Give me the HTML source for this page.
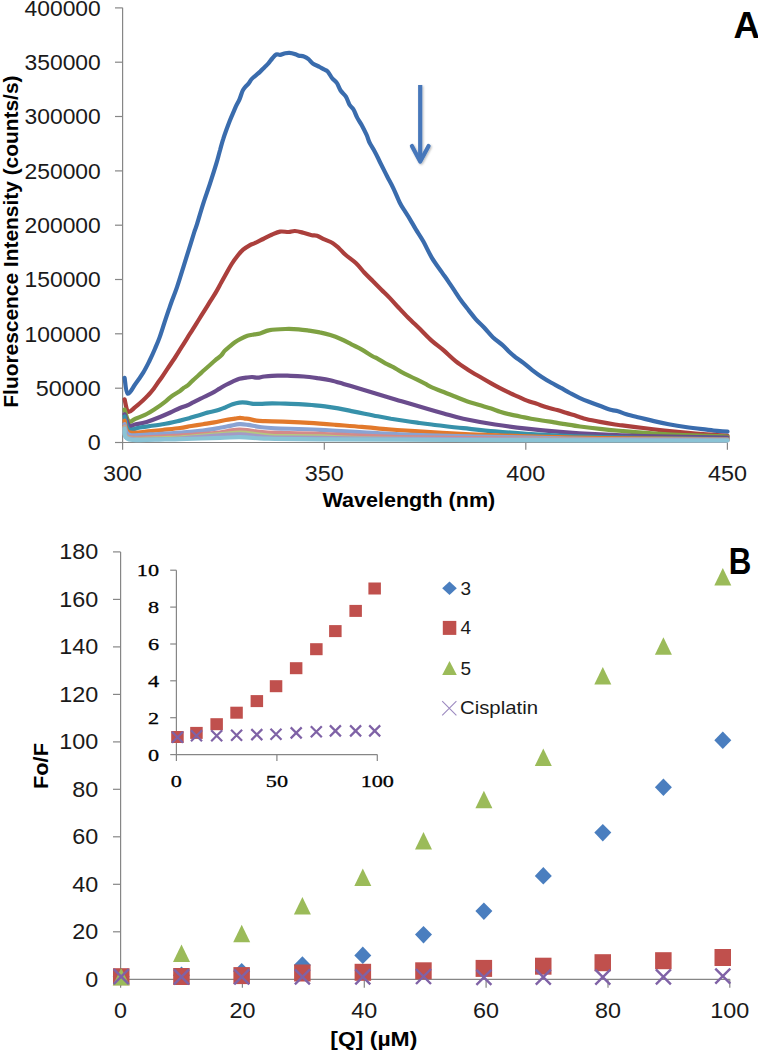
<!DOCTYPE html>
<html><head><meta charset="utf-8"><title>Fluorescence quenching</title>
<style>html,body{margin:0;padding:0;background:#fff;width:758px;height:1050px;overflow:hidden}svg{display:block}</style>
</head><body>
<svg width="758" height="1050" viewBox="0 0 758 1050">
<rect width="758" height="1050" fill="#fff"/>
<g stroke="#868686" stroke-width="1.2" fill="none">
<path d="M122.6,7.8 V442.5 H727.5"/>
<path d="M115,442.5 H122.6"/>
<path d="M115,388.2 H122.6"/>
<path d="M115,333.8 H122.6"/>
<path d="M115,279.5 H122.6"/>
<path d="M115,225.2 H122.6"/>
<path d="M115,170.9 H122.6"/>
<path d="M115,116.5 H122.6"/>
<path d="M115,62.2 H122.6"/>
<path d="M115,7.9 H122.6"/>
<path d="M122.6,442.5 V449.8"/>
<path d="M324.3,442.5 V449.8"/>
<path d="M525.8,442.5 V449.8"/>
<path d="M727.4,442.5 V449.8"/>
</g>
<g fill="none" stroke-width="4.2" stroke-linejoin="round" stroke-linecap="round">
<path stroke="#3A6CAD" d="M124.6,377.9 C125.1,380.5 125.8,392.5 127.6,393.6 C129.4,394.7 132.6,387.8 135.2,384.3 C137.8,380.8 140.8,376.5 143.2,372.6 C145.6,368.7 147.4,365.0 149.4,361.0 C151.4,357.0 153.4,352.5 155.1,348.5 C156.8,344.5 158.2,341.3 159.7,337.1 C161.2,332.9 162.7,328.0 164.2,323.4 C165.7,318.8 167.6,313.2 168.8,309.7 C170.0,306.2 170.0,306.0 171.4,302.2 C172.8,298.4 175.2,292.5 177.1,286.9 C179.0,281.3 181.0,274.7 182.9,268.6 C184.8,262.5 186.7,256.4 188.6,250.3 C190.5,244.2 193.0,236.2 194.3,232.0 C195.6,227.8 195.1,230.2 196.6,225.4 C198.1,220.6 201.1,210.2 203.4,203.1 C205.7,196.0 208.2,189.2 210.3,182.6 C212.5,176.0 214.7,169.1 216.3,163.7 C217.9,158.3 218.9,154.1 220.1,150.0 C221.2,145.9 222.1,142.6 223.2,139.2 C224.2,135.8 225.3,132.7 226.4,129.7 C227.5,126.7 228.6,123.8 229.6,121.2 C230.6,118.6 231.6,116.3 232.7,113.8 C233.8,111.3 234.8,108.9 235.9,106.4 C237.1,104.0 238.5,101.7 239.6,99.1 C240.7,96.5 241.7,92.6 242.7,90.6 C243.7,88.6 244.4,88.1 245.4,86.9 C246.4,85.8 247.4,85.0 248.5,83.7 C249.6,82.4 250.5,80.4 251.7,79.0 C252.9,77.6 254.5,76.5 255.9,75.3 C257.3,74.1 258.8,72.9 260.2,71.6 C261.6,70.3 263.0,68.8 264.4,67.4 C265.8,66.0 267.3,64.7 268.6,63.2 C269.9,61.7 270.9,60.0 272.2,58.5 C273.5,57.0 274.9,55.1 276.2,54.5 C277.5,53.9 278.6,55.0 280.1,54.8 C281.6,54.6 283.8,53.5 285.4,53.2 C286.9,52.9 287.9,52.7 289.4,52.8 C290.9,52.9 293.1,53.4 294.6,53.9 C296.1,54.4 297.1,55.2 298.6,55.6 C300.2,56.0 302.2,55.9 303.9,56.5 C305.5,57.1 307.0,57.9 308.5,59.1 C310.0,60.3 311.2,62.4 313.1,63.7 C315.0,65.0 317.9,66.0 319.7,67.0 C321.5,68.0 322.7,68.7 324.0,69.4 C325.3,70.1 326.2,69.9 327.6,71.4 C329.0,72.9 330.7,76.4 332.2,78.3 C333.7,80.2 335.4,80.9 336.8,82.9 C338.2,84.9 339.1,88.2 340.6,90.5 C342.1,92.8 344.4,94.2 345.9,96.6 C347.4,99.0 348.4,102.8 349.7,105.0 C351.0,107.2 352.2,107.3 353.5,109.5 C354.8,111.7 355.9,115.2 357.3,117.9 C358.7,120.6 360.4,122.7 361.9,125.5 C363.4,128.3 365.2,131.9 366.5,134.7 C367.8,137.5 368.3,140.0 369.5,142.5 C370.7,145.0 372.3,147.2 373.6,149.6 C374.9,152.0 376.3,154.6 377.5,157.0 C378.7,159.4 379.3,160.8 380.9,164.0 C382.5,167.2 385.1,172.4 387.2,176.5 C389.3,180.6 391.4,184.2 393.5,188.6 C395.6,193.0 397.9,198.9 399.8,202.7 C401.7,206.5 403.2,208.6 405.0,211.4 C406.8,214.2 408.5,216.8 410.3,219.8 C412.1,222.8 413.8,226.0 416.0,229.6 C418.2,233.2 420.8,236.8 423.4,241.5 C426.0,246.2 428.8,252.6 431.9,257.8 C435.0,263.0 439.4,268.6 442.1,272.6 C444.9,276.6 446.3,278.5 448.4,281.6 C450.5,284.7 452.7,287.9 454.8,291.1 C456.9,294.3 458.8,297.4 461.1,300.6 C463.4,303.8 466.0,307.0 468.5,310.1 C471.0,313.2 473.3,316.4 475.9,319.4 C478.5,322.3 481.5,324.8 484.3,327.8 C487.1,330.8 489.8,334.4 492.8,337.2 C495.8,340.0 499.5,342.4 502.3,344.9 C505.1,347.4 507.6,350.3 509.7,352.3 C511.8,354.3 512.7,355.0 515.0,356.8 C517.3,358.6 520.6,360.7 523.4,362.9 C526.2,365.1 528.9,367.5 531.9,369.8 C534.9,372.1 538.2,374.6 541.4,376.7 C544.6,378.8 547.7,380.7 550.9,382.5 C554.1,384.3 557.2,385.9 560.4,387.7 C563.6,389.4 566.7,391.3 569.9,393.0 C573.1,394.7 576.2,396.4 579.4,397.8 C582.6,399.2 585.3,400.3 588.9,401.7 C592.5,403.1 597.3,404.9 601.1,406.3 C604.9,407.7 608.9,409.3 611.7,410.1 C614.5,410.9 615.5,410.5 618.0,411.2 C620.5,411.9 622.9,413.2 626.4,414.3 C629.9,415.4 634.5,416.4 639.1,417.5 C643.7,418.6 649.0,420.0 653.9,421.1 C658.8,422.2 663.4,423.2 668.7,424.2 C674.0,425.2 679.9,426.2 685.5,427.0 C691.1,427.8 697.1,428.5 702.4,429.1 C707.7,429.7 713.0,430.4 717.2,430.8 C721.4,431.2 725.8,431.5 727.5,431.6"/>
<path stroke="#AB3F3C" d="M124.6,399.3 C125.2,401.4 126.4,410.3 128.2,411.6 C130.0,412.9 132.7,409.1 135.2,407.2 C137.7,405.3 140.9,402.3 143.1,400.3 C145.3,398.3 146.6,396.9 148.4,395.0 C150.2,393.1 151.9,391.0 153.7,388.7 C155.4,386.4 157.5,383.2 158.9,381.3 C160.3,379.4 160.3,379.4 162.0,377.0 C163.7,374.6 166.5,370.2 168.8,366.8 C171.1,363.4 173.6,359.7 175.7,356.5 C177.8,353.3 179.5,350.4 181.4,347.4 C183.3,344.4 185.2,341.4 187.1,338.3 C189.0,335.2 191.0,332.2 192.9,329.1 C194.8,326.1 196.7,323.0 198.6,320.0 C200.5,317.0 202.4,313.9 204.3,310.9 C206.2,307.8 208.1,304.8 210.0,301.7 C211.9,298.6 213.8,295.8 215.7,292.6 C217.6,289.4 219.5,285.7 221.4,282.3 C223.3,278.9 225.4,275.1 227.1,272.0 C228.8,268.9 230.0,266.7 231.7,264.0 C233.4,261.3 235.5,258.4 237.4,256.0 C239.3,253.6 241.0,251.5 243.1,249.7 C245.2,247.9 248.1,246.2 250.0,245.1 C251.9,244.0 252.6,244.2 254.8,243.2 C257.0,242.2 260.4,240.4 263.2,239.0 C266.0,237.6 268.9,236.0 271.7,234.8 C274.5,233.6 277.3,232.1 280.1,231.6 C282.9,231.1 286.0,232.1 288.5,232.0 C291.0,231.9 292.4,230.9 294.9,231.0 C297.4,231.1 300.5,232.0 303.3,232.7 C306.1,233.4 309.5,234.7 311.8,235.2 C314.1,235.7 314.9,235.1 317.0,235.8 C319.1,236.5 321.8,238.2 324.4,239.4 C327.0,240.6 330.4,241.7 332.9,243.2 C335.4,244.7 337.1,246.6 339.2,248.5 C341.3,250.4 342.7,252.3 345.5,254.8 C348.3,257.3 352.9,260.3 356.1,263.3 C359.3,266.3 361.7,269.8 364.5,272.8 C367.3,275.8 370.2,278.4 373.0,281.2 C375.8,284.0 378.6,286.9 381.4,289.7 C384.2,292.5 387.1,295.2 389.9,298.1 C392.7,301.0 395.0,303.8 398.0,307.0 C401.0,310.2 404.3,313.8 408.0,317.5 C411.7,321.2 416.0,325.2 420.0,329.1 C424.0,333.0 427.9,337.3 431.9,340.9 C435.8,344.4 439.8,347.0 443.7,350.4 C447.6,353.8 451.6,357.9 455.6,361.1 C459.6,364.3 463.5,366.8 467.5,369.4 C471.5,372.0 475.4,374.2 479.4,376.5 C483.3,378.8 487.8,381.4 491.2,383.4 C494.6,385.3 496.8,386.5 500.0,388.2 C503.2,389.9 507.6,392.0 510.6,393.4 C513.6,394.8 515.3,395.4 518.0,396.6 C520.7,397.8 524.0,399.4 527.0,400.6 C530.0,401.8 532.8,402.5 536.1,403.6 C539.4,404.7 543.2,406.2 546.7,407.3 C550.2,408.4 554.0,409.1 557.2,410.0 C560.4,410.9 563.2,411.9 566.0,412.8 C568.8,413.7 571.6,414.4 573.9,415.1 C576.2,415.8 578.0,416.6 580.0,417.2 C582.0,417.8 582.7,418.2 586.0,419.0 C589.3,419.8 595.2,421.0 600.0,421.9 C604.8,422.8 611.3,423.9 615.0,424.5 C618.7,425.1 617.5,424.8 622.2,425.4 C626.9,426.0 636.3,427.1 643.3,428.0 C650.3,428.9 657.4,429.8 664.4,430.6 C671.4,431.4 678.5,432.1 685.5,432.7 C692.5,433.3 699.6,433.9 706.6,434.4 C713.6,434.9 724.0,435.6 727.5,435.9"/>
<path stroke="#7EA142" d="M124.6,409.6 C125.3,411.6 127.0,419.8 128.7,421.4 C130.4,423.0 132.0,420.2 135.0,419.0 C138.0,417.8 143.4,415.7 146.7,414.0 C150.0,412.3 151.8,411.1 155.0,409.0 C158.2,406.9 162.9,403.5 165.7,401.3 C168.5,399.1 169.6,397.7 172.0,396.0 C174.4,394.3 178.1,392.2 180.0,390.9 C181.9,389.6 182.1,389.1 183.4,388.1 C184.7,387.2 186.5,386.4 188.0,385.2 C189.5,383.9 190.9,382.2 192.6,380.6 C194.3,379.0 196.4,377.2 198.3,375.5 C200.2,373.8 202.1,372.0 204.0,370.3 C205.9,368.6 207.8,366.9 209.7,365.2 C211.6,363.5 213.5,361.7 215.4,360.1 C217.3,358.5 219.6,357.0 221.1,355.5 C222.6,354.0 223.3,352.3 224.6,350.9 C225.9,349.5 227.4,348.3 229.1,346.9 C230.8,345.5 233.0,343.6 234.9,342.3 C236.8,341.0 238.5,340.0 240.6,338.9 C242.7,337.8 245.1,336.6 247.4,335.8 C249.7,335.1 252.2,334.8 254.3,334.4 C256.4,334.0 257.4,334.2 260.0,333.5 C262.6,332.8 265.4,330.8 269.6,330.1 C273.8,329.3 280.6,329.1 285.4,329.0 C290.2,328.9 294.6,329.0 298.6,329.3 C302.6,329.6 305.7,330.1 309.2,330.6 C312.7,331.1 316.2,331.6 319.7,332.4 C323.2,333.1 326.8,334.0 330.3,335.1 C333.8,336.2 337.3,337.5 340.8,339.0 C344.3,340.5 347.9,342.5 351.4,344.3 C354.9,346.1 358.4,347.6 361.9,349.6 C365.4,351.6 369.9,354.7 372.5,356.2 C375.1,357.7 375.4,357.4 377.5,358.6 C379.6,359.8 382.8,361.9 385.4,363.3 C388.0,364.7 390.7,365.8 393.3,367.2 C395.9,368.6 398.6,370.4 401.2,371.8 C403.8,373.2 406.5,374.5 409.2,375.8 C411.9,377.1 414.5,378.4 417.1,379.7 C419.7,381.0 422.5,382.4 425.0,383.7 C427.5,385.0 428.8,386.0 431.9,387.4 C435.0,388.8 439.8,390.4 443.7,392.0 C447.6,393.6 451.6,395.1 455.6,396.7 C459.6,398.3 463.5,400.1 467.5,401.5 C471.5,402.9 475.4,403.8 479.4,405.0 C483.3,406.2 487.8,407.5 491.2,408.6 C494.6,409.7 496.9,410.7 500.0,411.7 C503.1,412.7 506.5,413.6 510.0,414.4 C513.5,415.2 517.5,416.0 521.0,416.7 C524.5,417.4 527.5,418.1 531.0,418.7 C534.5,419.3 538.3,419.9 542.0,420.5 C545.7,421.1 549.5,421.6 553.0,422.1 C556.5,422.7 558.5,423.1 563.0,423.8 C567.5,424.5 573.8,425.7 580.0,426.5 C586.2,427.3 593.0,428.1 600.0,428.8 C607.0,429.6 611.5,430.1 622.2,431.0 C632.9,431.9 646.9,433.1 664.4,434.0 C681.9,434.9 717.0,436.1 727.5,436.5"/>
<path stroke="#6A4C8D" d="M124.6,414.3 C125.3,416.2 127.4,424.0 129.1,425.7 C130.8,427.4 132.1,425.1 135.0,424.5 C137.9,423.9 142.5,423.1 146.7,421.9 C150.9,420.6 156.1,418.6 160.0,417.0 C163.9,415.4 167.1,414.0 170.4,412.5 C173.7,411.0 177.2,409.2 180.0,408.0 C182.8,406.8 184.6,406.4 186.9,405.5 C189.2,404.5 191.4,403.2 193.7,402.1 C196.0,401.0 198.3,399.8 200.6,398.7 C202.9,397.6 205.1,396.4 207.4,395.3 C209.7,394.2 212.2,393.0 214.3,391.9 C216.4,390.8 218.1,389.5 220.0,388.4 C221.9,387.2 223.6,386.1 225.7,385.0 C227.8,383.9 230.3,382.7 232.6,381.6 C234.9,380.6 237.1,379.4 239.4,378.7 C241.7,378.0 244.2,377.9 246.3,377.6 C248.4,377.3 250.1,377.0 252.0,377.0 C253.9,377.0 255.6,377.8 257.7,377.7 C259.8,377.6 261.0,376.9 264.3,376.5 C267.6,376.2 273.1,375.7 277.5,375.6 C281.9,375.5 286.3,375.7 290.7,375.8 C295.1,375.9 299.5,376.1 303.9,376.5 C308.3,376.9 312.7,377.5 317.1,378.1 C321.5,378.7 325.9,379.2 330.3,380.2 C334.7,381.2 339.1,382.6 343.5,383.9 C347.9,385.2 352.2,386.5 356.6,387.8 C361.0,389.1 365.4,390.5 369.8,391.8 C374.2,393.1 378.6,394.5 383.0,395.8 C387.4,397.1 391.8,398.4 396.2,399.7 C400.6,401.0 404.1,401.9 409.4,403.5 C414.7,405.1 422.2,407.3 427.9,409.0 C433.6,410.7 437.8,411.9 443.7,413.5 C449.6,415.1 454.8,417.0 463.3,418.8 C471.9,420.6 484.4,422.9 495.0,424.5 C505.6,426.1 515.8,427.4 526.6,428.6 C537.4,429.8 547.8,430.8 560.0,431.8 C572.2,432.8 586.1,433.7 600.0,434.4 C613.9,435.1 622.0,435.5 643.3,436.0 C664.5,436.5 713.5,437.3 727.5,437.6"/>
<path stroke="#3791AA" d="M124.6,416.4 C125.3,418.5 126.1,427.4 128.7,429.3 C131.3,431.2 134.4,428.3 140.0,427.5 C145.6,426.7 155.8,425.4 162.5,424.3 C169.2,423.2 175.6,421.6 180.0,420.6 C184.4,419.6 186.0,419.2 189.1,418.3 C192.2,417.4 195.2,416.3 198.3,415.4 C201.4,414.5 204.4,413.4 207.4,412.6 C210.4,411.8 213.6,411.5 216.6,410.6 C219.6,409.7 223.0,408.2 225.7,407.2 C228.4,406.1 230.3,405.1 232.6,404.3 C234.9,403.5 237.1,402.9 239.4,402.6 C241.7,402.3 244.0,402.4 246.3,402.6 C248.6,402.8 250.8,403.6 253.1,403.8 C255.4,404.0 256.8,404.0 260.0,403.9 C263.2,403.9 268.0,403.3 272.2,403.3 C276.4,403.3 281.0,403.6 285.4,403.7 C289.8,403.8 294.2,404.0 298.6,404.2 C303.0,404.4 307.4,404.6 311.8,405.0 C316.2,405.4 320.6,405.7 325.0,406.3 C329.4,406.9 333.8,407.6 338.2,408.4 C342.6,409.2 347.0,410.2 351.4,411.1 C355.8,412.0 360.2,412.8 364.6,413.7 C369.0,414.6 373.4,415.5 377.8,416.3 C382.2,417.1 386.5,417.9 390.9,418.7 C395.3,419.4 399.7,420.1 404.1,420.8 C408.5,421.5 412.7,422.1 417.3,422.7 C421.9,423.3 424.0,423.6 431.7,424.5 C439.4,425.4 452.8,427.1 463.3,428.2 C473.9,429.3 484.4,430.5 495.0,431.4 C505.6,432.3 515.8,433.1 526.6,433.8 C537.4,434.5 547.8,435.1 560.0,435.6 C572.2,436.1 583.3,436.6 600.0,437.0 C616.7,437.4 638.8,437.9 660.0,438.2 C681.2,438.5 716.2,438.9 727.5,439.0"/>
<path stroke="#E2792B" d="M124.6,420.7 C125.3,422.6 124.8,430.3 128.7,432.1 C132.6,433.9 142.4,431.8 148.0,431.4 C153.6,431.0 157.2,430.6 162.5,430.0 C167.8,429.4 175.2,428.7 180.0,428.0 C184.8,427.3 187.6,426.6 191.4,426.0 C195.2,425.4 199.1,424.8 202.9,424.2 C206.7,423.6 210.5,423.1 214.3,422.4 C218.1,421.7 222.2,420.6 225.7,420.0 C229.1,419.4 232.6,419.0 235.0,418.6 C237.4,418.2 238.3,417.8 240.0,417.8 C241.7,417.8 243.6,418.4 245.0,418.6 C246.4,418.8 246.7,418.6 248.6,418.9 C250.5,419.2 253.7,420.2 256.4,420.6 C259.1,421.0 260.6,421.0 265.0,421.2 C269.4,421.4 275.4,421.3 282.8,421.6 C290.2,421.9 300.4,422.4 309.2,422.9 C318.0,423.4 326.7,424.1 335.5,424.8 C344.3,425.5 353.1,426.1 361.9,426.9 C370.7,427.6 379.5,428.6 388.3,429.3 C397.1,430.0 405.7,430.6 414.7,431.2 C423.7,431.8 430.6,432.2 442.2,432.8 C453.8,433.4 470.3,434.3 484.4,434.9 C498.5,435.5 514.0,435.9 526.6,436.3 C539.2,436.7 547.8,436.9 560.0,437.2 C572.2,437.5 572.1,437.6 600.0,438.0 C627.9,438.4 706.2,439.1 727.5,439.3"/>
<path stroke="#8AA3D3" d="M124.6,424.3 C125.3,426.0 124.7,432.9 128.9,434.6 C133.1,436.3 144.0,434.6 150.0,434.4 C156.0,434.2 160.0,433.9 165.0,433.6 C170.0,433.3 173.7,433.1 180.0,432.6 C186.3,432.1 196.2,431.4 202.9,430.6 C209.6,429.8 215.5,428.6 220.0,427.8 C224.5,427.0 226.8,426.5 230.0,425.9 C233.2,425.3 236.4,424.4 239.4,424.2 C242.4,424.0 244.6,424.4 248.0,424.9 C251.4,425.4 255.5,426.4 260.0,427.0 C264.5,427.6 265.0,427.8 275.0,428.3 C285.0,428.8 299.2,428.8 320.0,429.8 C340.8,430.8 373.3,433.3 400.0,434.4 C426.7,435.5 453.3,436.0 480.0,436.6 C506.7,437.2 540.0,437.9 560.0,438.3 C580.0,438.7 572.1,438.8 600.0,439.0 C627.9,439.2 706.2,439.5 727.5,439.6"/>
<path stroke="#D48A8A" d="M124.6,426.5 C125.3,428.3 122.2,435.6 128.9,437.2 C135.6,438.8 156.5,436.7 165.0,436.4 C173.5,436.1 171.8,436.1 180.0,435.6 C188.2,435.1 206.3,434.0 214.3,433.2 C222.3,432.4 223.8,431.6 228.0,431.0 C232.2,430.4 235.7,429.6 239.4,429.5 C243.1,429.4 246.6,430.2 250.0,430.6 C253.4,431.0 255.8,431.4 260.0,431.8 C264.2,432.2 265.0,432.5 275.0,432.8 C285.0,433.1 299.2,433.1 320.0,433.8 C340.8,434.5 360.0,436.1 400.0,437.0 C440.0,437.9 505.4,438.5 560.0,439.0 C614.6,439.5 699.6,439.8 727.5,440.0"/>
<path stroke="#B5C880" d="M124.6,427.5 C125.3,429.3 122.2,436.4 128.9,438.2 C135.6,439.9 156.5,438.1 165.0,438.0 C173.5,437.9 170.8,438.1 180.0,437.5 C189.2,436.9 210.0,435.0 220.0,434.2 C230.0,433.4 233.3,432.4 240.0,432.5 C246.7,432.6 254.2,434.0 260.0,434.6 C265.8,435.2 265.0,435.7 275.0,436.0 C285.0,436.3 299.2,435.9 320.0,436.4 C340.8,436.9 332.1,438.2 400.0,438.8 C467.9,439.4 672.9,440.0 727.5,440.2"/>
<path stroke="#A49AC6" d="M124.6,428.3 C125.3,430.1 122.2,437.0 128.9,438.8 C135.6,440.6 156.5,439.0 165.0,439.0 C173.5,439.0 170.8,439.2 180.0,438.6 C189.2,438.0 210.0,436.1 220.0,435.4 C230.0,434.7 233.3,434.2 240.0,434.4 C246.7,434.6 254.2,435.9 260.0,436.4 C265.8,436.9 265.0,437.4 275.0,437.6 C285.0,437.8 299.2,437.6 320.0,437.8 C340.8,438.0 332.1,438.4 400.0,438.8 C467.9,439.2 672.9,440.1 727.5,440.3"/>
<path stroke="#8AC3D5" d="M124.6,429.0 C125.3,430.7 122.2,437.7 128.9,439.4 C135.6,441.1 156.5,439.4 165.0,439.4 C173.5,439.4 170.8,439.4 180.0,439.2 C189.2,438.9 210.0,438.2 220.0,437.9 C230.0,437.6 233.3,437.1 240.0,437.2 C246.7,437.3 254.2,438.1 260.0,438.4 C265.8,438.7 265.0,438.6 275.0,438.8 C285.0,439.0 299.2,439.2 320.0,439.3 C340.8,439.4 353.3,439.5 400.0,439.7 C446.7,439.9 549.2,440.2 600.0,440.3 C650.8,440.4 683.8,440.5 705.0,440.5 C726.2,440.5 723.8,440.5 727.5,440.5"/>
</g>
<g font-family="Liberation Sans" font-size="22" fill="#1a1a1a" text-anchor="end">
<text x="100.8" y="450.4" textLength="13.0" lengthAdjust="spacingAndGlyphs">0</text>
<text x="100.8" y="396.1" textLength="65.0" lengthAdjust="spacingAndGlyphs">50000</text>
<text x="100.8" y="341.7" textLength="76.3" lengthAdjust="spacingAndGlyphs">100000</text>
<text x="100.8" y="287.4" textLength="76.3" lengthAdjust="spacingAndGlyphs">150000</text>
<text x="100.8" y="233.1" textLength="76.3" lengthAdjust="spacingAndGlyphs">200000</text>
<text x="100.8" y="178.8" textLength="76.3" lengthAdjust="spacingAndGlyphs">250000</text>
<text x="100.8" y="124.4" textLength="76.3" lengthAdjust="spacingAndGlyphs">300000</text>
<text x="100.8" y="70.1" textLength="76.3" lengthAdjust="spacingAndGlyphs">350000</text>
<text x="100.8" y="15.8" textLength="76.3" lengthAdjust="spacingAndGlyphs">400000</text>
</g>
<g font-family="Liberation Sans" font-size="22" fill="#1a1a1a" text-anchor="middle">
<text x="122.6" y="481.4" textLength="39.0" lengthAdjust="spacingAndGlyphs">300</text>
<text x="324.3" y="481.4" textLength="39.0" lengthAdjust="spacingAndGlyphs">350</text>
<text x="525.8" y="481.4" textLength="39.0" lengthAdjust="spacingAndGlyphs">400</text>
<text x="727.4" y="481.4" textLength="39.0" lengthAdjust="spacingAndGlyphs">450</text>
</g>
<text x="322.5" y="506.5" font-family="Liberation Sans" font-weight="bold" font-size="21" textLength="172.7" lengthAdjust="spacingAndGlyphs" fill="#000">Wavelength (nm)</text>
<text transform="translate(17.9,407.7) rotate(-90)" x="0" y="0" font-family="Liberation Sans" font-weight="bold" font-size="21" textLength="332.2" lengthAdjust="spacingAndGlyphs" fill="#000">Fluorescence Intensity (counts/s)</text>
<text x="733.5" y="37.9" font-family="Liberation Sans" font-weight="bold" font-size="36.5" fill="#000">A</text>
<defs><filter id="sh" x="-50%" y="-20%" width="200%" height="140%"><feGaussianBlur in="SourceAlpha" stdDeviation="1.3"/><feOffset dx="1.2" dy="1.2" result="b"/><feFlood flood-color="#000" flood-opacity="0.28"/><feComposite in2="b" operator="in"/><feMerge><feMergeNode/><feMergeNode in="SourceGraphic"/></feMerge></filter></defs>
<g stroke="#4677BA" stroke-width="4.2" fill="none" stroke-linecap="round" stroke-linejoin="round" filter="url(#sh)">
<path d="M420.2,85 V158" stroke-linecap="butt"/>
<path d="M411.9,146 L420.2,161.6 L428.6,146"/>
</g>
<g stroke="#868686" stroke-width="1.2" fill="none">
<path d="M120.6,551.9 V979.3 H729.8"/>
<path d="M113,979.3 H120.6"/>
<path d="M113,931.8 H120.6"/>
<path d="M113,884.3 H120.6"/>
<path d="M113,836.8 H120.6"/>
<path d="M113,789.3 H120.6"/>
<path d="M113,741.9 H120.6"/>
<path d="M113,694.4 H120.6"/>
<path d="M113,646.9 H120.6"/>
<path d="M113,599.4 H120.6"/>
<path d="M113,551.9 H120.6"/>
<path d="M120.6,979.3 V987.8"/>
<path d="M242.4,979.3 V987.8"/>
<path d="M364.3,979.3 V987.8"/>
<path d="M486.1,979.3 V987.8"/>
<path d="M608.0,979.3 V987.8"/>
<path d="M729.8,979.3 V987.8"/>
<path d="M176.4,570.2 V754.6 H377.3"/>
<path d="M170.2,754.6 H176.4"/>
<path d="M170.2,717.7 H176.4"/>
<path d="M170.2,680.8 H176.4"/>
<path d="M170.2,644.0 H176.4"/>
<path d="M170.2,607.1 H176.4"/>
<path d="M170.2,570.2 H176.4"/>
<path d="M176.4,754.6 V761"/>
<path d="M276.9,754.6 V761"/>
<path d="M377.3,754.6 V761"/>
</g>
<g font-family="Liberation Sans" font-size="22" fill="#1a1a1a" text-anchor="end">
<text x="98.2" y="986.8" textLength="13.0" lengthAdjust="spacingAndGlyphs">0</text>
<text x="98.2" y="939.3" textLength="26.0" lengthAdjust="spacingAndGlyphs">20</text>
<text x="98.2" y="891.8" textLength="26.0" lengthAdjust="spacingAndGlyphs">40</text>
<text x="98.2" y="844.3" textLength="26.0" lengthAdjust="spacingAndGlyphs">60</text>
<text x="98.2" y="796.8" textLength="26.0" lengthAdjust="spacingAndGlyphs">80</text>
<text x="98.2" y="749.4" textLength="39.0" lengthAdjust="spacingAndGlyphs">100</text>
<text x="98.2" y="701.9" textLength="39.0" lengthAdjust="spacingAndGlyphs">120</text>
<text x="98.2" y="654.4" textLength="39.0" lengthAdjust="spacingAndGlyphs">140</text>
<text x="98.2" y="606.9" textLength="39.0" lengthAdjust="spacingAndGlyphs">160</text>
<text x="98.2" y="559.4" textLength="39.0" lengthAdjust="spacingAndGlyphs">180</text>
</g>
<g font-family="Liberation Sans" font-size="22" fill="#1a1a1a" text-anchor="middle">
<text x="120.6" y="1017.8" textLength="13.0" lengthAdjust="spacingAndGlyphs">0</text>
<text x="242.4" y="1017.8" textLength="26.0" lengthAdjust="spacingAndGlyphs">20</text>
<text x="364.3" y="1017.8" textLength="26.0" lengthAdjust="spacingAndGlyphs">40</text>
<text x="486.1" y="1017.8" textLength="26.0" lengthAdjust="spacingAndGlyphs">60</text>
<text x="608.0" y="1017.8" textLength="26.0" lengthAdjust="spacingAndGlyphs">80</text>
<text x="729.8" y="1017.8" textLength="39.0" lengthAdjust="spacingAndGlyphs">100</text>
</g>
<text x="330.3" y="1045.5" font-family="Liberation Sans" font-weight="bold" font-size="21" textLength="87" lengthAdjust="spacingAndGlyphs" fill="#000">[Q] (µM)</text>
<text transform="translate(47.6,789) rotate(-90)" font-family="Liberation Sans" font-weight="bold" font-size="21" textLength="46" lengthAdjust="spacingAndGlyphs" fill="#000">Fo/F</text>
<text x="728.7" y="574.4" font-family="Liberation Sans" font-weight="bold" font-size="36.5" textLength="22.6" lengthAdjust="spacingAndGlyphs" fill="#000">B</text>
<g font-family="Liberation Serif" font-size="17.5" fill="#000" stroke="#000" stroke-width="0.3" text-anchor="end">
<text x="159" y="760.5" textLength="11.1" lengthAdjust="spacingAndGlyphs">0</text>
<text x="159" y="723.6" textLength="11.1" lengthAdjust="spacingAndGlyphs">2</text>
<text x="159" y="686.7" textLength="11.1" lengthAdjust="spacingAndGlyphs">4</text>
<text x="159" y="649.9" textLength="11.1" lengthAdjust="spacingAndGlyphs">6</text>
<text x="159" y="613.0" textLength="11.1" lengthAdjust="spacingAndGlyphs">8</text>
<text x="159" y="576.1" textLength="22.2" lengthAdjust="spacingAndGlyphs">10</text>
</g>
<g font-family="Liberation Serif" font-size="17.5" fill="#000" stroke="#000" stroke-width="0.3" text-anchor="middle">
<text x="176.4" y="786.7" textLength="11.1" lengthAdjust="spacingAndGlyphs">0</text>
<text x="276.9" y="786.7" textLength="22.2" lengthAdjust="spacingAndGlyphs">50</text>
<text x="377.3" y="786.7" textLength="33.3" lengthAdjust="spacingAndGlyphs">100</text>
</g>
<path d="M121.2,968.0 L129.7,976.7 L121.2,985.5 L112.7,976.7 Z" fill="#4A7EBF"/>
<path d="M181.5,966.5 L190.0,975.2 L181.5,984.0 L173.0,975.2 Z" fill="#4A7EBF"/>
<path d="M241.7,962.9 L250.2,971.6 L241.7,980.4 L233.2,971.6 Z" fill="#4A7EBF"/>
<path d="M302.4,956.2 L310.9,965 L302.4,973.8 L293.9,965 Z" fill="#4A7EBF"/>
<path d="M362.8,946.6 L371.3,955.4 L362.8,964.1 L354.3,955.4 Z" fill="#4A7EBF"/>
<path d="M423.5,925.9 L432.0,934.6 L423.5,943.4 L415.0,934.6 Z" fill="#4A7EBF"/>
<path d="M483.9,902.4 L492.4,911.1 L483.9,919.9 L475.4,911.1 Z" fill="#4A7EBF"/>
<path d="M543.3,867.1 L551.8,875.9 L543.3,884.6 L534.8,875.9 Z" fill="#4A7EBF"/>
<path d="M602.8,823.9 L611.3,832.6 L602.8,841.4 L594.3,832.6 Z" fill="#4A7EBF"/>
<path d="M663.4,778.5 L671.9,787.3 L663.4,796.0 L654.9,787.3 Z" fill="#4A7EBF"/>
<path d="M722.8,731.5 L731.3,740.3 L722.8,749.0 L714.3,740.3 Z" fill="#4A7EBF"/>
<rect x="113.0" y="968.2" width="16.5" height="17" fill="#C0504D"/>
<rect x="173.2" y="968.0" width="16.5" height="17" fill="#C0504D"/>
<rect x="233.4" y="967.1" width="16.5" height="17" fill="#C0504D"/>
<rect x="294.1" y="964.5" width="16.5" height="17" fill="#C0504D"/>
<rect x="354.6" y="963.8" width="16.5" height="17" fill="#C0504D"/>
<rect x="415.2" y="962.3" width="16.5" height="17" fill="#C0504D"/>
<rect x="475.6" y="959.9" width="16.5" height="17" fill="#C0504D"/>
<rect x="535.0" y="957.7" width="16.5" height="17" fill="#C0504D"/>
<rect x="594.5" y="954.2" width="16.5" height="17" fill="#C0504D"/>
<rect x="655.1" y="952.2" width="16.5" height="17" fill="#C0504D"/>
<rect x="714.5" y="949.0" width="16.5" height="17" fill="#C0504D"/>
<path d="M121.2,968.0 L129.7,985.5 L112.7,985.5 Z" fill="#9BBB59"/>
<path d="M181.5,944.6 L190.0,962.1 L173.0,962.1 Z" fill="#9BBB59"/>
<path d="M241.7,924.8 L250.2,942.2 L233.2,942.2 Z" fill="#9BBB59"/>
<path d="M302.4,896.9 L310.9,914.4 L293.9,914.4 Z" fill="#9BBB59"/>
<path d="M362.8,868.5 L371.3,886.0 L354.3,886.0 Z" fill="#9BBB59"/>
<path d="M423.5,832.1 L432.0,849.6 L415.0,849.6 Z" fill="#9BBB59"/>
<path d="M483.9,790.8 L492.4,808.2 L475.4,808.2 Z" fill="#9BBB59"/>
<path d="M543.3,748.5 L551.8,766.0 L534.8,766.0 Z" fill="#9BBB59"/>
<path d="M602.8,666.9 L611.3,684.4 L594.3,684.4 Z" fill="#9BBB59"/>
<path d="M663.4,637.2 L671.9,654.8 L654.9,654.8 Z" fill="#9BBB59"/>
<path d="M722.8,568.1 L731.3,585.6 L714.3,585.6 Z" fill="#9BBB59"/>
<path d="M113.7,969.2 L128.7,984.2 M113.7,984.2 L128.7,969.2" stroke="#7F62A6" stroke-width="2.4" fill="none"/>
<path d="M174.0,969.3 L189.0,984.3 M174.0,984.3 L189.0,969.3" stroke="#7F62A6" stroke-width="2.4" fill="none"/>
<path d="M234.2,969.3 L249.2,984.3 M234.2,984.3 L249.2,969.3" stroke="#7F62A6" stroke-width="2.4" fill="none"/>
<path d="M294.9,969.3 L309.9,984.3 M294.9,984.3 L309.9,969.3" stroke="#7F62A6" stroke-width="2.4" fill="none"/>
<path d="M355.3,969.3 L370.3,984.3 M355.3,984.3 L370.3,969.3" stroke="#7F62A6" stroke-width="2.4" fill="none"/>
<path d="M416.0,969.0 L431.0,984.0 M416.0,984.0 L431.0,969.0" stroke="#7F62A6" stroke-width="2.4" fill="none"/>
<path d="M476.4,969.8 L491.4,984.8 M476.4,984.8 L491.4,969.8" stroke="#7F62A6" stroke-width="2.4" fill="none"/>
<path d="M535.8,969.6 L550.8,984.6 M535.8,984.6 L550.8,969.6" stroke="#7F62A6" stroke-width="2.4" fill="none"/>
<path d="M595.3,969.7 L610.3,984.7 M595.3,984.7 L610.3,969.7" stroke="#7F62A6" stroke-width="2.4" fill="none"/>
<path d="M655.9,969.3 L670.9,984.3 M655.9,984.3 L670.9,969.3" stroke="#7F62A6" stroke-width="2.4" fill="none"/>
<path d="M715.3,968.7 L730.3,983.7 M715.3,983.7 L730.3,968.7" stroke="#7F62A6" stroke-width="2.4" fill="none"/>
<rect x="171.2" y="731.0" width="12.5" height="12" fill="#C0504D"/>
<rect x="190.2" y="726.9" width="12.5" height="12" fill="#C0504D"/>
<rect x="210.4" y="718.2" width="12.5" height="12" fill="#C0504D"/>
<rect x="230.3" y="706.7" width="12.5" height="12" fill="#C0504D"/>
<rect x="250.6" y="695.1" width="12.5" height="12" fill="#C0504D"/>
<rect x="269.8" y="680.2" width="12.5" height="12" fill="#C0504D"/>
<rect x="289.9" y="662.2" width="12.5" height="12" fill="#C0504D"/>
<rect x="310.1" y="643.2" width="12.5" height="12" fill="#C0504D"/>
<rect x="329.1" y="625.1" width="12.5" height="12" fill="#C0504D"/>
<rect x="349.4" y="604.9" width="12.5" height="12" fill="#C0504D"/>
<rect x="368.4" y="582.5" width="12.5" height="12" fill="#C0504D"/>
<path d="M172.0,731.8 L183.0,742.8 M172.0,742.8 L183.0,731.8" stroke="#7F62A6" stroke-width="2.2" fill="none"/>
<path d="M191.0,730.2 L202.0,741.2 M191.0,741.2 L202.0,730.2" stroke="#7F62A6" stroke-width="2.2" fill="none"/>
<path d="M211.2,730.2 L222.2,741.2 M211.2,741.2 L222.2,730.2" stroke="#7F62A6" stroke-width="2.2" fill="none"/>
<path d="M231.1,729.7 L242.1,740.7 M231.1,740.7 L242.1,729.7" stroke="#7F62A6" stroke-width="2.2" fill="none"/>
<path d="M251.3,729.1 L262.3,740.1 M251.3,740.1 L262.3,729.1" stroke="#7F62A6" stroke-width="2.2" fill="none"/>
<path d="M270.5,728.8 L281.5,739.8 M270.5,739.8 L281.5,728.8" stroke="#7F62A6" stroke-width="2.2" fill="none"/>
<path d="M290.7,727.4 L301.7,738.4 M290.7,738.4 L301.7,727.4" stroke="#7F62A6" stroke-width="2.2" fill="none"/>
<path d="M310.8,726.2 L321.8,737.2 M310.8,737.2 L321.8,726.2" stroke="#7F62A6" stroke-width="2.2" fill="none"/>
<path d="M329.9,725.4 L340.9,736.4 M329.9,736.4 L340.9,725.4" stroke="#7F62A6" stroke-width="2.2" fill="none"/>
<path d="M350.1,725.4 L361.1,736.4 M350.1,736.4 L361.1,725.4" stroke="#7F62A6" stroke-width="2.2" fill="none"/>
<path d="M369.2,725.4 L380.2,736.4 M369.2,736.4 L380.2,725.4" stroke="#7F62A6" stroke-width="2.2" fill="none"/>
<path d="M449.5,581.5 L456.8,588.2 L449.5,595.0 L442.2,588.2 Z" fill="#4A7EBF"/>
<rect x="442.8" y="620.9" width="13.5" height="14" fill="#C0504D"/>
<path d="M449.5,661.0 L456.8,675.0 L442.2,675.0 Z" fill="#9BBB59"/>
<path d="M442.2,701.2 L456.4,715.4 M442.2,715.4 L456.4,701.2" stroke="#9C8AC0" stroke-width="1.1" fill="none"/>
<g font-family="Liberation Sans" font-size="19" fill="#1a1a1a">
<text x="460.5" y="594.8">3</text>
<text x="460.5" y="634.4">4</text>
<text x="460.5" y="674.6">5</text>
<text x="460" y="714.2" textLength="78" lengthAdjust="spacingAndGlyphs">Cisplatin</text>
</g>
</svg>
</body></html>
